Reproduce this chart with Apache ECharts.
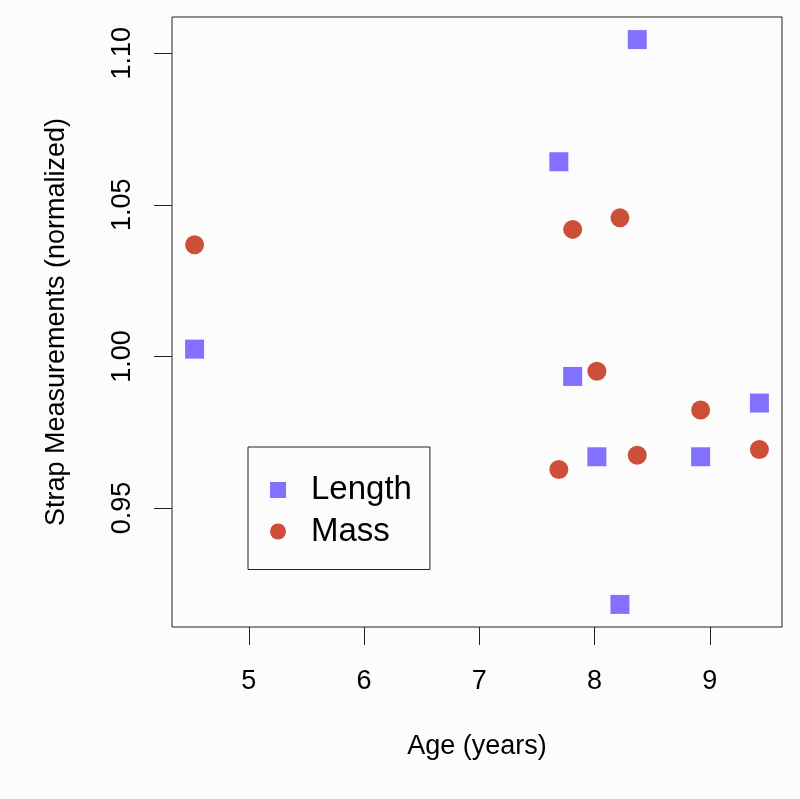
<!DOCTYPE html>
<html>
<head>
<meta charset="utf-8">
<script src="https://cdn.jsdelivr.net/npm/echarts@6/dist/echarts.min.js"></script>
<style>
html,body{margin:0;padding:0;background:#fcfcfc;}
#chart{width:800px;height:799px;}
</style>
</head>
<body>
<div id="chart"></div>
<script>
// Data
var ages = [4.53, 7.69, 7.81, 8.02, 8.22, 8.37, 8.92, 9.43];
var lengthValues = [1.0024, 1.0642, 0.9934, 0.9669, 0.9182, 1.1045, 0.9669, 0.9846];
var massValues = [1.0368, 0.9627, 1.0419, 0.9951, 1.0457, 0.9674, 0.9823, 0.9693];
var xTicks = [5, 6, 7, 8, 9];
var yTicks = [0.95, 1.00, 1.05, 1.10];
var yTickLabels = ['0.95', '1.00', '1.05', '1.10'];
var seriesNames = ['Length', 'Mass'];
var xTitle = 'Age (years)';
var yTitle = 'Strap Measurements (normalized)';

function pairs(xs, ys) { return xs.map(function (x, i) { return [x, ys[i]]; }); }
function extend(vals) {
  var mn = Math.min.apply(null, vals), mx = Math.max.apply(null, vals);
  var d = (mx - mn) * 0.04;
  return [mn - d, mx + d];
}
var xr = extend(ages);
var yr = extend(lengthValues.concat(massValues));

var FONT = '"Liberation Sans", Arial, sans-serif';
var chart = echarts.init(document.getElementById('chart'), null, {renderer: 'canvas'});
chart.setOption({
  backgroundColor: '#fcfcfc',
  animation: false,
  grid: {left: 172, top: 17, right: 18, bottom: 172, show: true, borderColor: '#222', borderWidth: 1, backgroundColor: 'transparent'},
  xAxis: {
    type: 'value', min: xr[0], max: xr[1],
    name: xTitle, nameLocation: 'middle', nameGap: 106,
    nameTextStyle: {fontFamily: FONT, fontSize: 27, color: '#000'},
    axisLine: {show: false},
    axisTick: {show: true, inside: false, length: 18, customValues: xTicks, lineStyle: {color: '#222', width: 1}},
    axisLabel: {show: true, customValues: xTicks, margin: 41, fontFamily: FONT, fontSize: 27, color: '#000'},
    splitLine: {show: false}
  },
  yAxis: {
    type: 'value', min: yr[0], max: yr[1],
    name: yTitle, nameLocation: 'middle', nameGap: 102, nameRotate: 90,
    nameTextStyle: {fontFamily: FONT, fontSize: 27, color: '#000'},
    axisLine: {show: false},
    axisTick: {show: true, inside: false, length: 18, customValues: yTicks, lineStyle: {color: '#222', width: 1}},
    axisLabel: {show: true, customValues: yTicks, rotate: 90, margin: 36, fontFamily: FONT, fontSize: 27, color: '#000',
      formatter: function (v) { var i = yTicks.findIndex(function (t) { return Math.abs(t - v) < 1e-9; }); return i >= 0 ? yTickLabels[i] : v.toFixed(2); }},
    splitLine: {show: false}
  },
  legend: {
    orient: 'vertical', left: 248, top: 447,
    borderColor: '#222', borderWidth: 1, borderRadius: 0,
    padding: [24, 18, 19, 22],
    itemWidth: 16, itemHeight: 16, itemGap: 3.5,
    textStyle: {fontFamily: FONT, fontSize: 33, color: '#000', lineHeight: 38, padding: [0, 0, 0, 20]},
    data: [{name: seriesNames[0], icon: 'rect'}, {name: seriesNames[1], icon: 'circle'}]
  },
  series: [
    {name: seriesNames[0], type: 'scatter', symbol: 'rect', symbolSize: 19, itemStyle: {color: '#8470FF', opacity: 1}, data: pairs(ages, lengthValues)},
    {name: seriesNames[1], type: 'scatter', symbol: 'circle', symbolSize: 19, itemStyle: {color: '#CD4F39', opacity: 1}, data: pairs(ages, massValues)}
  ]
});
</script>
</body>
</html>
